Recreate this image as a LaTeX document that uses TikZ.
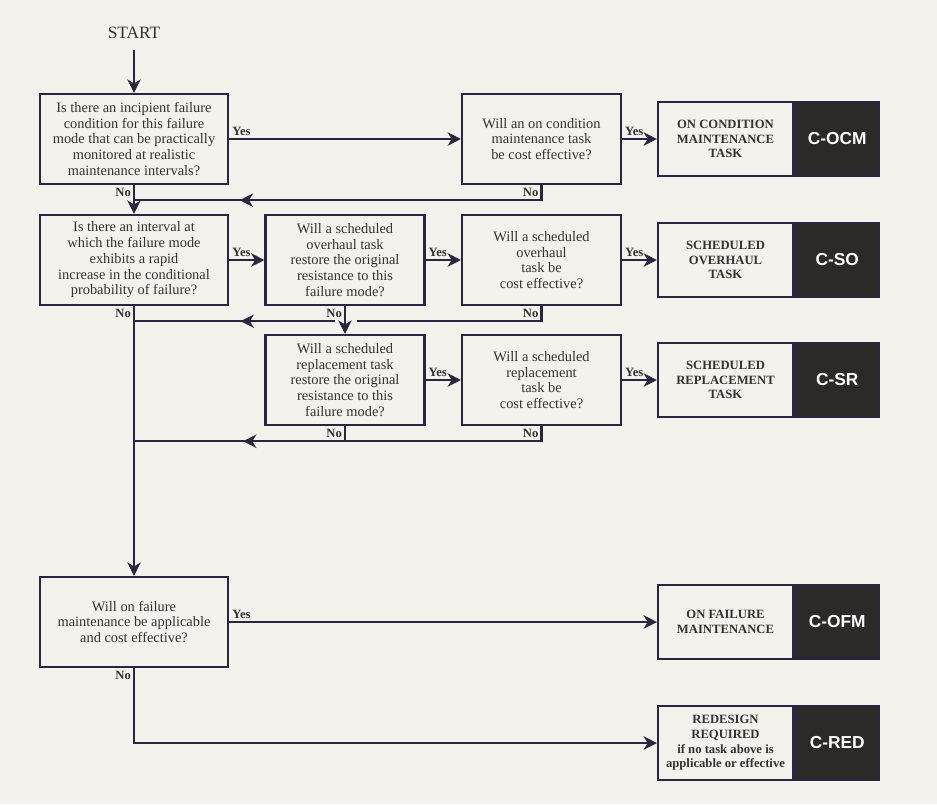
\documentclass[tikz,border=0pt]{standalone}
\usepackage{fontspec}
\setmainfont{Liberation Serif}
\newfontfamily\tagfont{Liberation Sans}
\usetikzlibrary{positioning,arrows.meta,decorations.markings}

\definecolor{paper}{HTML}{F4F2EC}
\definecolor{ink}{HTML}{2B2640}
\definecolor{txt}{HTML}{363232}
\definecolor{tagfill}{HTML}{2C2929}

\begin{document}
\begin{tikzpicture}[x=0.75pt,y=-0.75pt,
  link/.style={draw=ink, line width=1.6pt},
  arr/.style={link, -{Stealth[length=10pt,width=10pt,inset=3pt]}},
  midarrow/.style={link, postaction={decorate},
    decoration={markings, mark=at position #1 with {\arrow{Stealth[length=10pt,width=10pt,inset=3pt]}}}},
  bigq/.style={draw=ink, line width=1.8pt, text=txt, align=center,
    minimum width=141pt, minimum height=67.5pt, inner sep=2pt,
    font=\fontsize{10.8}{11.8}\selectfont},
  smallq/.style={bigq, minimum width=119pt},
  resbox/.style={draw=ink, line width=1.8pt, text=txt, align=center,
    minimum width=101pt, minimum height=55.5pt, inner sep=2pt,
    font=\bfseries\fontsize{9.5}{11}\selectfont},
  tagbox/.style={draw=ink, fill=tagfill, line width=1.8pt, text=white,
    minimum width=63pt, minimum height=55.5pt, inner sep=2pt,
    font=\tagfont\bfseries\fontsize{13}{15}\selectfont},
  yes/.style={above right, inner sep=1.5pt, text=txt, font=\bfseries\fontsize{9.5}{11}\selectfont},
  no/.style={below left, inner sep=1.5pt, text=txt, font=\bfseries\fontsize{9.5}{11}\selectfont},
]
  \fill[paper] (0,0) rectangle (937,804);
  \useasboundingbox (0,0) rectangle (937,804);

  % questions
  \node[font=\fontsize{13}{15}\selectfont, text=txt] (start) at (134,33) {START};
  \node[bigq] (q1) at (134,139) {Is there an incipient failure\\condition for this failure\\mode that can be practically\\monitored at realistic\\maintenance intervals?};
  \node[smallq] (q1b) at (541.5,139) {Will an on condition\\maintenance task\\be cost effective?};
  \node[bigq] (q2) at (134,260) {Is there an interval at\\which the failure mode\\exhibits a rapid\\increase in the conditional\\probability of failure?};
  \node[smallq] (q2b) at (345,260) {Will a scheduled\\overhaul task\\restore the original\\resistance to this\\failure mode?};
  \node[smallq] (q2c) at (541.5,260) {Will a scheduled\\overhaul\\task be\\cost effective?};
  \node[smallq] (q3a) at (345,380) {Will a scheduled\\replacement task\\restore the original\\resistance to this\\failure mode?};
  \node[smallq] (q3b) at (541.5,380) {Will a scheduled\\replacement\\task be\\cost effective?};
  \node[bigq] (q4) at (134,622) {Will on failure\\maintenance be applicable\\and cost effective?};

  % outcomes
  \node[resbox] (ocm) at (725.5,139) {ON CONDITION\\MAINTENANCE\\TASK};
  \node[tagbox, right=0pt of ocm] (ocmtag) {C-OCM};
  \node[resbox] (so) at (725.5,260) {SCHEDULED\\OVERHAUL\\TASK};
  \node[tagbox, right=0pt of so] (sotag) {C-SO};
  \node[resbox] (sr) at (725.5,380) {SCHEDULED\\REPLACEMENT\\TASK};
  \node[tagbox, right=0pt of sr] (srtag) {C-SR};
  \node[resbox] (ofm) at (725.5,622) {ON FAILURE\\MAINTENANCE};
  \node[tagbox, right=0pt of ofm] (ofmtag) {C-OFM};
  \node[resbox] (red) at (725.5,743) {REDESIGN\\REQUIRED\\if no task above is\\applicable or effective};
  \node[tagbox, right=0pt of red] (redtag) {C-RED};

  % yes branches
  \draw[arr, shorten <=5pt] (start) -- (q1);
  \draw[arr] (q1) -- node[yes, pos=0] {Yes} (q1b);
  \draw[arr] (q1b) -- node[yes, pos=0] {Yes} (ocm);
  \draw[arr] (q2) -- node[yes, pos=0] {Yes} (q2b);
  \draw[arr] (q2b) -- node[yes, pos=0] {Yes} (q2c);
  \draw[arr] (q2c) -- node[yes, pos=0] {Yes} (so);
  \draw[arr] (q3a) -- node[yes, pos=0] {Yes} (q3b);
  \draw[arr] (q3b) -- node[yes, pos=0] {Yes} (sr);
  \draw[arr] (q4) -- node[yes, pos=0] {Yes} (ofm);

  % no branches
  \draw[arr] (q1) -- node[no, pos=0] {No} (q2);
  \draw[midarrow=0.75] (q1b.south) -- node[no, pos=0] {No} ++(0,15) coordinate (t1) -- (t1 -| q1.south);
  \draw[arr] (q2b) -- node[no, pos=0] {No} (q3a);
  \draw[link] (q2c.south) -- node[no, pos=0] {No} ++(0,15) coordinate (t2) -- ([xshift=9pt]t2 -| q2b.south);
  \draw[midarrow=0.47] ([xshift=-7.5pt]t2 -| q2b.south) -- (t2 -| q2.south);
  \draw[link] (q3a.south) -- node[no, pos=0] {No} ++(0,15);
  \draw[midarrow=0.742] (q3b.south) -- node[no, pos=0] {No} ++(0,15) coordinate (t3) -- (t3 -| q2.south);
  \draw[arr] (q2) -- node[no, pos=0] {No} (q4);
  \draw[arr] (q4) |- node[no, pos=0] {No} (red);
\end{tikzpicture}
\end{document}
